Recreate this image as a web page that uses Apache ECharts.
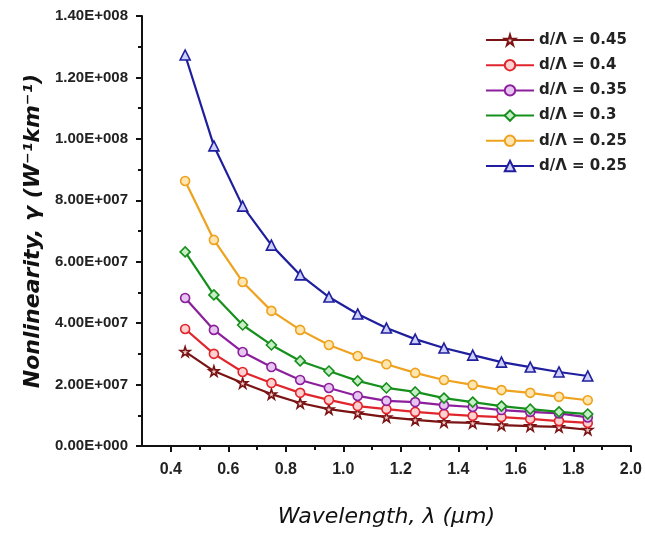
<!DOCTYPE html>
<html>
<head>
<meta charset="utf-8">
<script src="https://cdn.jsdelivr.net/npm/echarts@6/dist/echarts.min.js"></script>
<style>
html,body{margin:0;padding:0;background:#fff;}
#chart{width:645px;height:534px;}
</style>
</head>
<body>
<div id="chart"></div>
<script>
const wavelengths = [0.45,0.55,0.65,0.75,0.85,0.95,1.05,1.15,1.25,1.35,1.45,1.55,1.65,1.75,1.85];
const seriesNames = ['d/Λ = 0.45','d/Λ = 0.4','d/Λ = 0.35','d/Λ = 0.3','d/Λ = 0.25','d/Λ = 0.25 '];
const gamma045 = [3.07e7,2.44e7,2.05e7,1.69e7,1.40e7,1.20e7,1.07e7,0.94e7,0.85e7,0.78e7,0.75e7,0.68e7,0.65e7,0.62e7,0.53e7];
const gamma040 = [3.81e7,3.00e7,2.41e7,2.05e7,1.73e7,1.50e7,1.30e7,1.20e7,1.11e7,1.04e7,0.98e7,0.94e7,0.88e7,0.81e7,0.75e7];
const gamma035 = [4.82e7,3.78e7,3.06e7,2.57e7,2.15e7,1.89e7,1.63e7,1.47e7,1.43e7,1.33e7,1.27e7,1.17e7,1.11e7,1.06e7,0.93e7];
const gamma030 = [6.32e7,4.92e7,3.94e7,3.29e7,2.77e7,2.44e7,2.12e7,1.89e7,1.76e7,1.56e7,1.43e7,1.30e7,1.20e7,1.11e7,1.04e7];
const gamma025a = [8.63e7,6.71e7,5.34e7,4.40e7,3.78e7,3.29e7,2.93e7,2.66e7,2.38e7,2.15e7,1.99e7,1.82e7,1.73e7,1.60e7,1.49e7];
const gamma025b = [12.73e7,9.77e7,7.81e7,6.54e7,5.57e7,4.85e7,4.30e7,3.84e7,3.48e7,3.19e7,2.96e7,2.73e7,2.57e7,2.41e7,2.28e7];
const xMajorTicks = [0.4,0.6,0.8,1.0,1.2,1.4,1.6,1.8,2.0];
const xMinorTicks = [0.5,0.7,0.9,1.1,1.3,1.5,1.7,1.9];

const allValues = [gamma045,gamma040,gamma035,gamma030,gamma025a,gamma025b];
const colors = ['#7a1414','#e0262c','#8c1f9c','#16901c','#eea21e','#1f1f9e'];
const fills = ['#f2c9c9','#ffd0d0','#e6c6f0','#c8eec8','#ffe6b0','#d0d0ff'];
const starPath = 'path://M50,0 L61,35 L98,35 L68,57 L79,91 L50,70 L21,91 L32,57 L2,35 L39,35 Z';
const symbols = [starPath,'circle','circle','diamond','circle','triangle'];
const sizes = [10,9,9,10,9,10];

function sci(v){
  if (Math.abs(v) < 1e-9) return '0.00E+000';
  let e = Math.floor(Math.log10(v) + 1e-9);
  let m = v / Math.pow(10, e);
  return m.toFixed(2) + 'E+' + String(e).padStart(3,'0');
}

const series = allValues.map((vals,i)=>({
  name: seriesNames[i],
  type: 'line',
  xAxisIndex: 0,
  data: wavelengths.map((x,j)=>[x, vals[j]]),
  symbol: symbols[i],
  symbolSize: sizes[i],
  showAllSymbol: true,
  lineStyle: {color: colors[i], width: 2.2},
  itemStyle: {color: fills[i], borderColor: colors[i], borderWidth: 1.6},
  emphasis: {disabled: true},
  z: 2 + i
}));

const chart = echarts.init(document.getElementById('chart'), null, {renderer:'canvas'});
chart.setOption({
  backgroundColor: '#fff',
  animation: false,
  grid: {left: 142, right: 10, top: 16, bottom: 88, containLabel: false},
  legend: {
    orient: 'vertical',
    left: 480,
    top: 26,
    itemWidth: 48,
    itemHeight: 13,
    itemGap: 7.2,
    data: seriesNames,
    textStyle: {fontFamily: 'DejaVu Sans, sans-serif', fontSize: 15, lineHeight: 18, fontWeight: 'bold', color: '#222'}
  },
  xAxis: [{
    type: 'value',
    min: 0.3, max: 2.0,
    name: 'Wavelength, λ (μm)',
    nameLocation: 'middle',
    nameGap: 60,
    nameTextStyle: {fontFamily: 'DejaVu Sans, sans-serif', fontStyle: 'italic', fontSize: 22, color: '#111'},
    axisLine: {show: true, onZero: false, lineStyle: {color: '#111', width: 2}},
    axisTick: {show: true, customValues: xMajorTicks, length: 6, lineStyle: {color: '#111', width: 2}},
    axisLabel: {customValues: xMajorTicks, margin: 16, fontFamily: 'Liberation Sans, Arial, sans-serif', fontSize: 16, fontWeight: 'bold', color: '#222', formatter: v => v.toFixed(1)},
    splitLine: {show: false}
  },{
    type: 'value',
    min: 0.3, max: 2.0,
    position: 'bottom',
    axisLine: {show: false},
    axisTick: {show: true, customValues: xMinorTicks, length: 4, lineStyle: {color: '#111', width: 2}},
    axisLabel: {show: false},
    splitLine: {show: false}
  }],
  yAxis: {
    type: 'value',
    min: 0, max: 1.4e8, interval: 2e7,
    name: 'Nonlinearity, γ (W⁻¹km⁻¹)',
    nameLocation: 'middle',
    nameGap: 97,
    nameTextStyle: {fontFamily: 'DejaVu Sans, sans-serif', fontStyle: 'italic', fontWeight: 'bold', fontSize: 22, color: '#111'},
    axisLine: {show: true, lineStyle: {color: '#111', width: 2}},
    axisTick: {show: true, length: 6, lineStyle: {color: '#111', width: 2}},
    minorTick: {show: true, splitNumber: 2, length: 4, lineStyle: {color: '#111', width: 2}},
    axisLabel: {margin: 14, fontFamily: 'Liberation Sans, Arial, sans-serif', fontSize: 15, fontWeight: 'bold', color: '#222', formatter: sci},
    splitLine: {show: false},
    minorSplitLine: {show: false}
  },
  series: series
});
</script>
</body>
</html>
